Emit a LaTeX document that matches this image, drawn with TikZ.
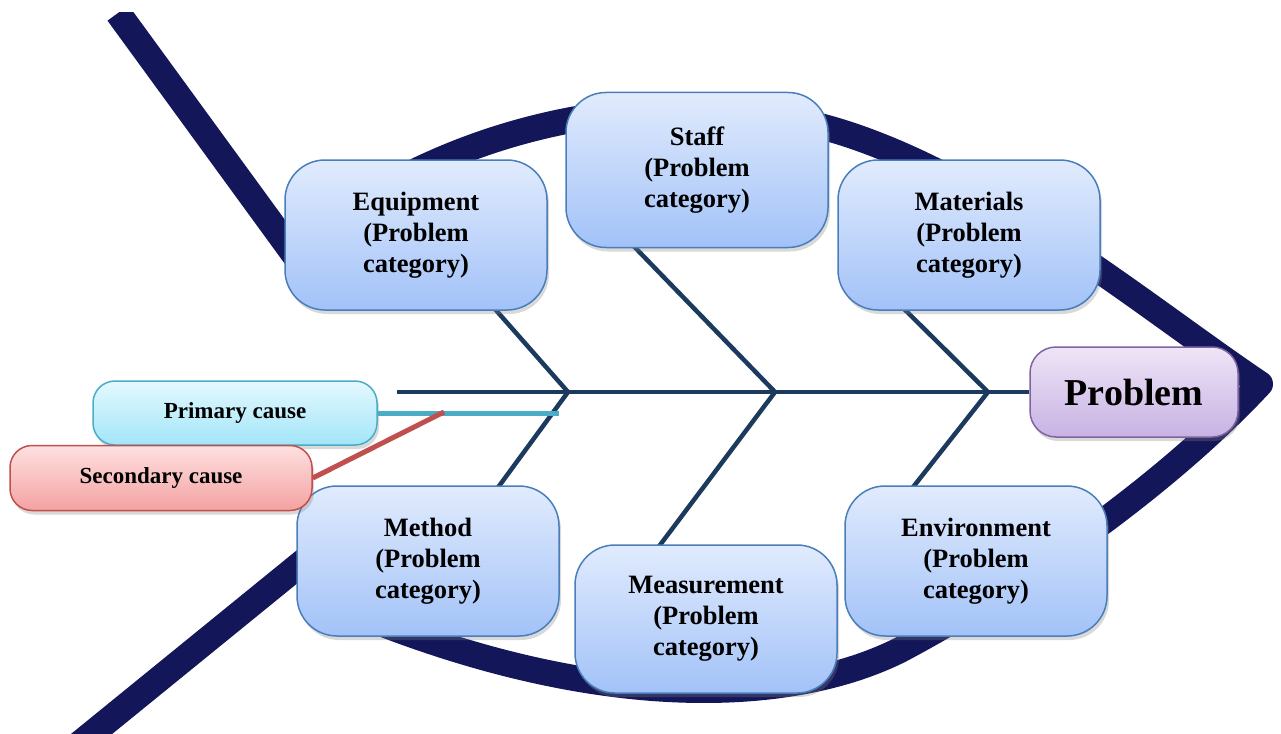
\documentclass[tikz,border=0pt]{standalone}
\usepackage{fontspec}
\setmainfont{Liberation Serif}
\usepackage{xcolor}
\usetikzlibrary{backgrounds,shadows}
\definecolor{fishnavy}{HTML}{14165A}
\definecolor{bonecol}{HTML}{1B3A5E}
\definecolor{catline}{HTML}{4A7EBB}
\definecolor{cattop}{HTML}{E1EBFD}
\definecolor{catbot}{HTML}{A2C2F8}
\definecolor{probline}{HTML}{8064A2}
\definecolor{probtop}{HTML}{EEE5F7}
\definecolor{probbot}{HTML}{C8B2E3}
\definecolor{primline}{HTML}{4BACC6}
\definecolor{primtop}{HTML}{E4F9FE}
\definecolor{primbot}{HTML}{A2E5F9}
\definecolor{secline}{HTML}{C0504D}
\definecolor{sectop}{HTML}{FEE0E0}
\definecolor{secbot}{HTML}{F4A2A2}
\tikzset{%
	boxshadow/.style = {drop shadow={opacity=0.3, shadow xshift=2pt, shadow yshift=-4pt}},
	category/.style  = {draw=catline, line width=1.5pt, rounded corners=40pt, top color=cattop, bottom color=catbot, minimum width=262pt, minimum height=150pt, align=center, inner sep=0pt, font=\fontsize{26.5pt}{31pt}\selectfont\bfseries, boxshadow},
	probbox/.style   = {draw=probline, line width=1.5pt, rounded corners=26pt, top color=probtop, bottom color=probbot, minimum width=208pt, minimum height=90pt, inner sep=0pt, font=\fontsize{38pt}{45pt}\selectfont\bfseries, boxshadow},
	primbox/.style   = {draw=primline, line width=1.5pt, rounded corners=22pt, top color=primtop, bottom color=primbot, minimum width=284pt, minimum height=64pt, inner sep=0pt, font=\fontsize{23pt}{28pt}\selectfont\bfseries, boxshadow},
	secbox/.style    = {draw=secline, line width=1.5pt, rounded corners=22pt, top color=sectop, bottom color=secbot, minimum width=302pt, minimum height=65pt, inner sep=0pt, font=\fontsize{23pt}{28pt}\selectfont\bfseries, boxshadow},
	outline/.style   = {draw=fishnavy, line width=26pt, line join=round},
	bone/.style      = {draw=bonecol, line width=4.5pt, line join=round},
}
\begin{document}
\begin{tikzpicture}[x=1pt,y=-1pt]
	\useasboundingbox (0,0) rectangle (1281,733);
	% problem categories
	\node[category] (equip)   at (416,235) {Equipment\\(Problem\\category)};
	\node[category, minimum height=155pt] (staff) at (697,170) {Staff\\(Problem\\category)};
	\node[category] (mater)   at (969,235) {Materials\\(Problem\\category)};
	\node[category] (method)  at (428,561) {Method\\(Problem\\category)};
	\node[category, minimum height=148pt] (measure) at (706,619) {Measurement\\(Problem\\category)};
	\node[category] (environ) at (976,561) {Environment\\(Problem\\category)};
	\node[probbox] (problem)  at (1134,392) {Problem};
	\node[primbox] (primary)  at (235,413) {Primary cause};
	\node[secbox] (secondary) at (161,478) {Secondary cause};
	% joints and free ends
	\coordinate (tail) at (397,392);
	\coordinate (j1) at (568,392);
	\coordinate (j2) at (775,392);
	\coordinate (j3) at (988,392);
	\coordinate (e1) at (480,292);
	\coordinate (e2) at (620,232);
	\coordinate (e3) at (890,295);
	\coordinate (e4) at (480,512);
	\coordinate (e5) at (645,565);
	\coordinate (e6) at (895,510);
	\coordinate (primend) at (559,413);
	\coordinate (secend) at (444,412);
	\begin{scope}[on background layer]
		\clip (0,13) rectangle (1281,733);
		\draw[outline] (118,13) -- (320,290); % upper tail
		\draw[outline] (78,745) -- (330,540); % lower tail
		\draw[outline] (380,190) .. controls (520,110) and (700,85) .. (850,135)
			.. controls (1000,185) and (1150,310) .. (1260,384)
			.. controls (1180,470) and (1050,570) .. (900,650)
			.. controls (790,705) and (600,712) .. (360,615); % body
		\draw[bone] (tail) -- (problem.west); % spine
		\draw[bone] (e1) -- (j1) -- (e4);
		\draw[bone] (e2) -- (j2) -- (e5);
		\draw[bone] (e3) -- (j3) -- (e6);
	\end{scope}
	\draw[primline, line width=5pt] (primary.east) -- (primend);
	\draw[secline, line width=5pt] (secondary.east) -- (secend);
\end{tikzpicture}
\end{document}
